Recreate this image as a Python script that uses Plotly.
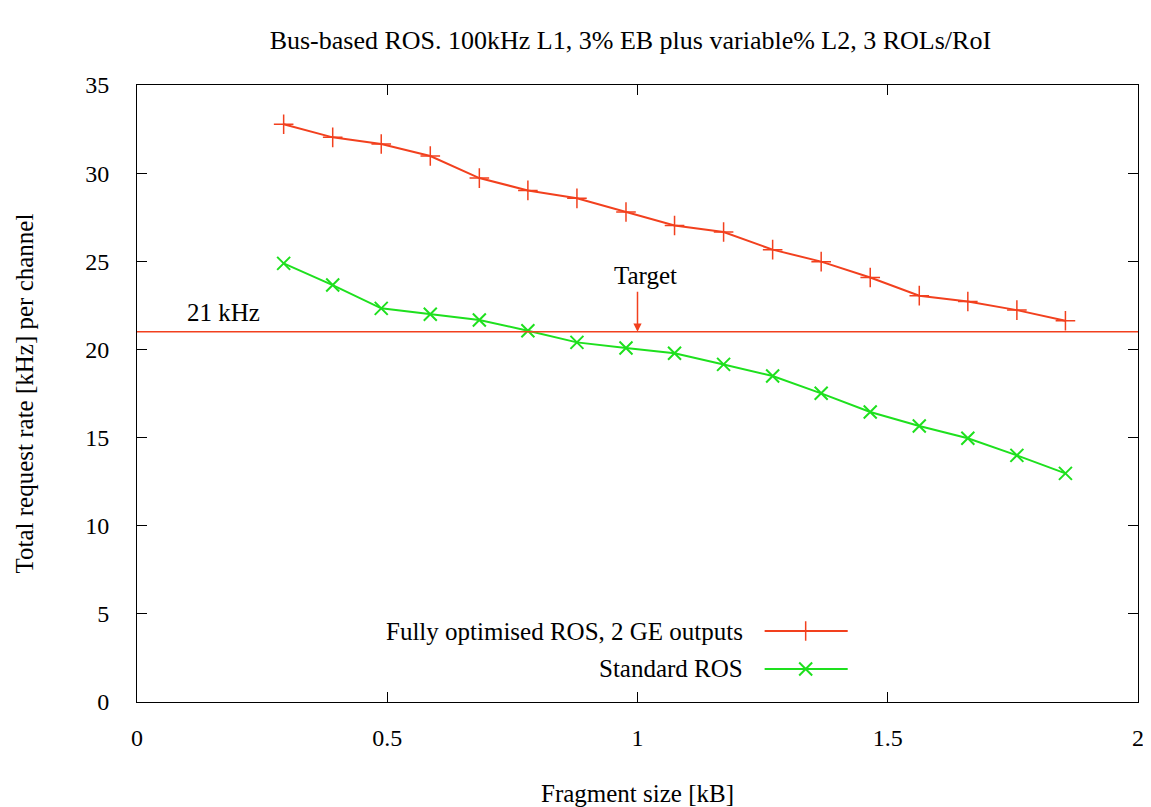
import plotly.graph_objects as go

# Fragment sizes in kB (100-byte steps / 1024)
frag_kb = [0.293, 0.391, 0.488, 0.586, 0.684, 0.781, 0.879, 0.977, 1.074,
           1.172, 1.270, 1.367, 1.465, 1.563, 1.660, 1.758, 1.855]
fully_opt = [32.77, 32.03, 31.65, 30.97, 29.72, 29.02, 28.57, 27.80, 27.03,
             26.66, 25.66, 24.98, 24.08, 23.05, 22.72, 22.23, 21.63]
standard = [24.88, 23.65, 22.33, 22.00, 21.67, 21.06, 20.40, 20.08, 19.78,
            19.15, 18.49, 17.51, 16.45, 15.66, 14.96, 13.99, 12.97]
target_khz = 21
series_names = ["Fully optimised ROS, 2 GE outputs", "Standard ROS"]
x_ticks = [0, 0.5, 1, 1.5, 2]
x_tick_text = ["0", "0.5", "1", "1.5", "2"]
y_ticks = [0, 5, 10, 15, 20, 25, 30, 35]

RED = "#f2401e"
GREEN = "#1ee01e"
FONT = "Liberation Serif"
FS = 25

fig = go.Figure()
fig.add_trace(go.Scatter(
    x=frag_kb, y=fully_opt, mode="lines+markers", name=series_names[0],
    line=dict(color=RED, width=2),
    marker=dict(symbol="cross-thin", size=14, line=dict(color=RED, width=1.5)),
    showlegend=False))
fig.add_trace(go.Scatter(
    x=frag_kb, y=standard, mode="lines+markers", name=series_names[1],
    line=dict(color=GREEN, width=2),
    marker=dict(symbol="x-thin", size=13, line=dict(color=GREEN, width=2)),
    showlegend=False))

# Legend samples on a hidden overlay axis (0..1 of plot area)
LEG_Y = [0.115, 0.0535]
fig.add_trace(go.Scatter(x=[0.627, 0.710], y=[LEG_Y[0]] * 2, xaxis="x2", yaxis="y2",
                         mode="lines", line=dict(color=RED, width=2), showlegend=False,
                         hoverinfo="skip"))
fig.add_trace(go.Scatter(x=[0.668], y=[LEG_Y[0]], xaxis="x2", yaxis="y2", mode="markers",
                         marker=dict(symbol="cross-thin", size=14, line=dict(color=RED, width=1.5)),
                         showlegend=False, hoverinfo="skip"))
fig.add_trace(go.Scatter(x=[0.627, 0.710], y=[LEG_Y[1]] * 2, xaxis="x2", yaxis="y2",
                         mode="lines", line=dict(color=GREEN, width=2), showlegend=False,
                         hoverinfo="skip"))
fig.add_trace(go.Scatter(x=[0.668], y=[LEG_Y[1]], xaxis="x2", yaxis="y2", mode="markers",
                         marker=dict(symbol="x-thin", size=13, line=dict(color=GREEN, width=2)),
                         showlegend=False, hoverinfo="skip"))

fig.add_hline(y=target_khz, line=dict(color=RED, width=1.5))

fig.add_annotation(x=0.172, y=target_khz, yshift=19, text=f"{target_khz} kHz", showarrow=False,
                   font=dict(family=FONT, size=FS, color="black"))
fig.add_annotation(x=1.0, y=target_khz, ax=1.0, ay=23.35, axref="x", ayref="y",
                   text="", showarrow=True, arrowhead=2, arrowsize=1.1, arrowwidth=1.5,
                   arrowcolor=RED)
fig.add_annotation(x=1.015, y=24.2, text="Target", showarrow=False,
                   font=dict(family=FONT, size=FS, color="black"))

# Legend text
for name, ly in zip(series_names, LEG_Y):
    fig.add_annotation(x=0.607, y=ly, xref="paper", yref="paper", xanchor="right",
                       yanchor="middle", text=name, showarrow=False,
                       font=dict(family=FONT, size=FS, color="black"))

# Axis titles
fig.add_annotation(x=0.5, y=-0.148, xref="paper", yref="paper", text="Fragment size [kB]",
                   showarrow=False, xanchor="center", yanchor="middle",
                   font=dict(family=FONT, size=FS, color="black"))
fig.add_annotation(x=-0.1119, y=0.5, xref="paper", yref="paper",
                   text="Total request rate [kHz] per channel", textangle=-90,
                   showarrow=False, xanchor="center", yanchor="middle",
                   font=dict(family=FONT, size=FS, color="black"))

fig.update_layout(
    width=1143, height=799,
    margin=dict(l=129, r=7, t=77, b=105),
    paper_bgcolor="white", plot_bgcolor="white",
    font=dict(family=FONT, size=FS, color="black"),
    title=dict(text="Bus-based ROS. 100kHz L1, 3% EB plus variable% L2, 3 ROLs/RoI",
               x=0.5445, xanchor="center", y=0.96, yanchor="middle",
               font=dict(family=FONT, size=26, color="black")),
    xaxis=dict(range=[0, 2], tickvals=x_ticks, ticktext=x_tick_text,
               ticks="inside", ticklen=10, tickwidth=1, tickcolor="black",
               showline=True, linecolor="black", linewidth=1, mirror="ticks",
               showgrid=False, zeroline=False, ticklabelstandoff=14,
               tickfont=dict(family=FONT, size=24)),
    yaxis=dict(range=[0, 35], tickvals=y_ticks,
               ticks="inside", ticklen=10, tickwidth=1, tickcolor="black",
               showline=True, linecolor="black", linewidth=1, mirror="ticks",
               showgrid=False, zeroline=False, ticklabelstandoff=22,
               tickfont=dict(family=FONT, size=24)),
    xaxis2=dict(range=[0, 1], overlaying="x", visible=False, anchor="y2"),
    yaxis2=dict(range=[0, 1], overlaying="y", visible=False, anchor="x2"),
)

fig.write_html("out.html")
